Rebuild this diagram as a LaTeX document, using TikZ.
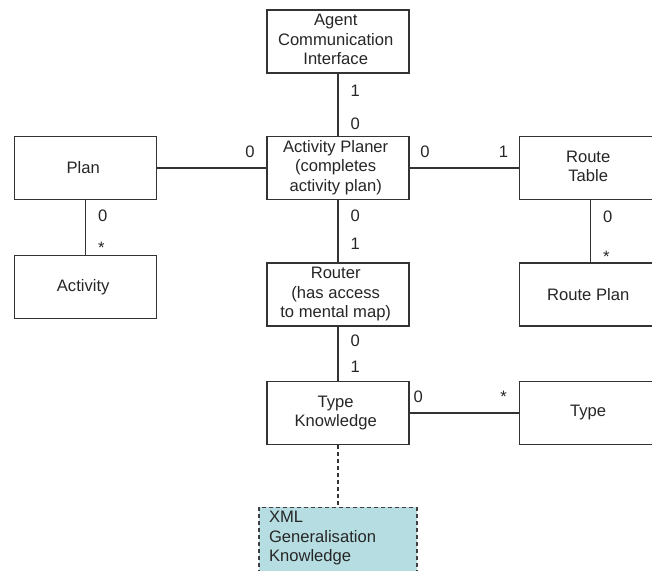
\documentclass[tikz,border=0pt]{standalone}
\usepackage{fontspec}
\setmainfont{Liberation Sans}
\usetikzlibrary{matrix,positioning}

\definecolor{xmlfill}{RGB}{182,222,226}
% stacked, centred lines inside a matrix cell
\newcommand\lines[1]{\begin{tabular}{@{}c@{}}#1\end{tabular}}

\begin{document}
\begin{tikzpicture}[x=1pt,y=-1pt,font=\fontsize{16.6}{19.5}\selectfont,text=black!85,
  box/.style={draw=black!80,line width=1.2pt,fill=white,align=center,minimum width=142pt,minimum height=63pt,inner sep=2pt},
  xmlbox/.style={draw=black!75,line width=1.2pt,dash pattern=on 4pt off 3pt,fill=xmlfill,align=left,text width=138pt,inner xsep=10pt,inner ysep=4pt,text depth=50pt},
  conn/.style={draw=black!80,line width=1.2pt},
  mult/.style={inner sep=0pt,text height=12pt,text depth=0pt}]

\useasboundingbox[fill=white] (0,0) rectangle (652,570);
\clip (0,0) rectangle (652,570);

\matrix [matrix of nodes,
matrix anchor=aci.center,
column sep={252.5pt,between origins},
row sep={126.5pt,between origins},
nodes={box,anchor=center}] at (338,41.5)
{
 & |(aci)| \lines{Agent\\Communication\\Interface} & \\
|(plan)| Plan & |(ap)| \lines{Activity Planer\\(completes\\activity plan)} & |(rt)| \lines{Route\\Table} \\
|(activity)[yshift=7.5pt]| Activity & |(router)| \lines{Router\\(has access\\to mental map)} & |(rp)| Route Plan \\[-8pt]
 & |(tk)| \lines{Type\\Knowledge} & |(type)| Type \\
};

\node[xmlbox,below=61.5pt of tk] (xml) {XML\\Generalisation\\Knowledge};

  \path[conn] (aci)    edge node[mult,right=12pt,pos=.27] {1} node[mult,right=12pt,pos=.8] {0} (ap)
              (plan)   edge node[mult,above=10pt,pos=.85] {0} (ap)
              (ap)     edge node[mult,above=10pt,pos=.14] {0} node[mult,above=10pt,pos=.86] {1} (rt)
              (ap)     edge node[mult,right=12pt,pos=.24] {0} node[mult,right=12pt,pos=.7] {1} (router)
              (plan)   edge node[mult,right=12pt,pos=.29] {0} node[mult,right=12pt,pos=.87] {*} (activity)
              (rt)     edge node[mult,right=12pt,pos=.26] {0} node[mult,right=12pt,pos=.9] {*} (rp)
              (router) edge node[mult,right=12pt,pos=.25] {0} node[mult,right=12pt,pos=.73] {1} (tk)
              (tk)     edge node[mult,above=10pt,pos=.08] {0} node[mult,above=10pt,pos=.86] {*} (type);
  \path[conn,dash pattern=on 4pt off 3pt] (tk) edge (xml);

\end{tikzpicture}
\end{document}
